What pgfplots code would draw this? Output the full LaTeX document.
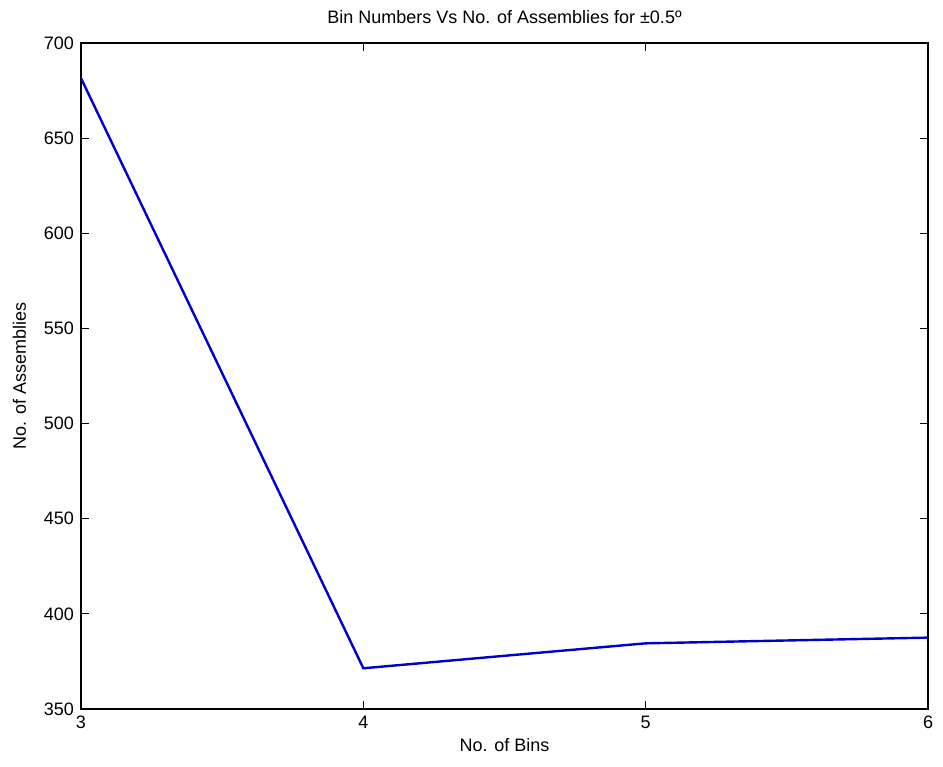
\documentclass[border=0pt]{standalone}
\usepackage{pgfplots}
\pgfplotsset{compat=1.18}
\usepackage{fontspec}
\setmainfont{Liberation Sans}
\begin{document}
\begin{tikzpicture}
\begin{axis}[
  scale only axis,
  width=423.5pt, height=333pt,
  xmin=3, xmax=6, ymin=350, ymax=700,
  xtick={3,4,5,6}, ytick={350,400,...,700},
  tick align=inside, tickpos=both,
  major tick length=4pt,
  tick style={black, line width=0.4pt},
  axis line style={black, line width=0.6pt},
  tick label style={font=\fontsize{9}{10}\selectfont},
  /pgf/number format/assume math mode=true,
  xlabel={No. of Bins}, ylabel={No. of Assemblies},
  label style={font=\fontsize{9}{10}\selectfont},
  title={Bin Numbers Vs No. of Assemblies for ±0.5º},
  title style={font=\fontsize{9}{10}\selectfont, yshift=0pt},
  xlabel style={yshift=2pt},
  ylabel style={yshift=2pt},
]
\addplot[color={rgb,255:red,0;green,0;blue,200}, line width=1.2pt] coordinates {
  (3,681.5) (4,371.4) (5,384.5) (6,387.5)
};
\end{axis}
\pgfresetboundingbox
\path (current axis.south west) ++(-40.5pt,-29pt) coordinate (bl);
\path (current axis.north east) ++(7.5pt,21.5pt) coordinate (tr);
\useasboundingbox (bl) rectangle (tr);
\end{tikzpicture}
\end{document}
